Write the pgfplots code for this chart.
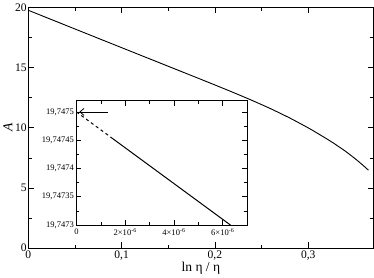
\documentclass[border=0pt]{standalone}
\usepackage{fontspec}
\setmainfont{Liberation Serif}
\usepackage{pgfplots}
\pgfplotsset{compat=1.18}
\usetikzlibrary{arrows.meta}
\begin{document}
\begin{tikzpicture}
\begin{axis}[
  scale only axis, width=344pt, height=240pt,
  xmin=0, xmax=0.37, ymin=0, ymax=20,
  xtick={0,0.1,0.2,0.3}, minor x tick num=1,
  ytick={0,5,10,15,20}, minor y tick num=1,
  tick align=inside, tick pos=both,
  major tick length=6pt, minor tick length=3.5pt,
  /pgf/number format/use comma,
  /pgf/number format/assume math mode=true,
  tick label style={font=\fontsize{11.5}{13}\selectfont},
  xticklabel style={yshift=1pt},
  yticklabel style={xshift=2pt},
  xlabel={ln η / η}, ylabel={\textit{A}},
  label style={font=\fontsize{13.5}{15}\selectfont},
  xlabel style={yshift=5pt},
  ylabel style={yshift=-4pt},
  axis line style={line width=0.8pt},
  every tick/.style={black, line width=0.6pt},
]
\addplot[black, line width=0.9pt, smooth, tension=0.3] coordinates {
  (0,19.75) (0.0763,17.38) (0.1839,14.05) (0.2161,13.04) (0.2376,12.34)
  (0.2591,11.60) (0.2806,10.79) (0.3022,9.89) (0.3237,8.89)
  (0.3398,8.05) (0.3505,7.41) (0.3581,6.92) (0.3645,6.47)
};
\end{axis}
% inset: y values stored as (A - 19.7473) in units of 1e-5
\begin{axis}[
  at={(48pt,23pt)}, anchor=south west,
  scale only axis, width=170pt, height=124pt,
  axis background/.style={fill=white},
  xmin=0, xmax=7e-6, ymin=0, ymax=22,
  scaled x ticks=false, scaled y ticks=false,
  xtick={0,2e-6,4e-6,6e-6},
  xticklabels={0, 2×10\textsuperscript{-6}, 4×10\textsuperscript{-6}, 6×10\textsuperscript{-6}},
  minor x tick num=1,
  ytick={0,5,10,15,20},
  yticklabels={{19,7473},{19,74735},{19,7474},{19,74745},{19,7475}},
  minor y tick num=1,
  tick align=inside, tick pos=both,
  major tick length=5pt, minor tick length=3pt,
  tick label style={font=\fontsize{8.5}{10}\selectfont},
  yticklabel style={xshift=1pt},
  axis line style={line width=0.8pt},
  every tick/.style={black, line width=0.6pt},
  clip=true,
]
\addplot[black, line width=1pt, dashed] coordinates {(0,20) (1.45e-6,15.4)};
\addplot[black, line width=1pt] coordinates {(1.45e-6,15.4) (6.32e-6,0)};
\addplot[black, line width=0.8pt, -{Straight Barb[length=4pt,width=7pt]}] coordinates {(1.3e-6,20) (0.12e-6,20)};
\end{axis}
\end{tikzpicture}
\end{document}
